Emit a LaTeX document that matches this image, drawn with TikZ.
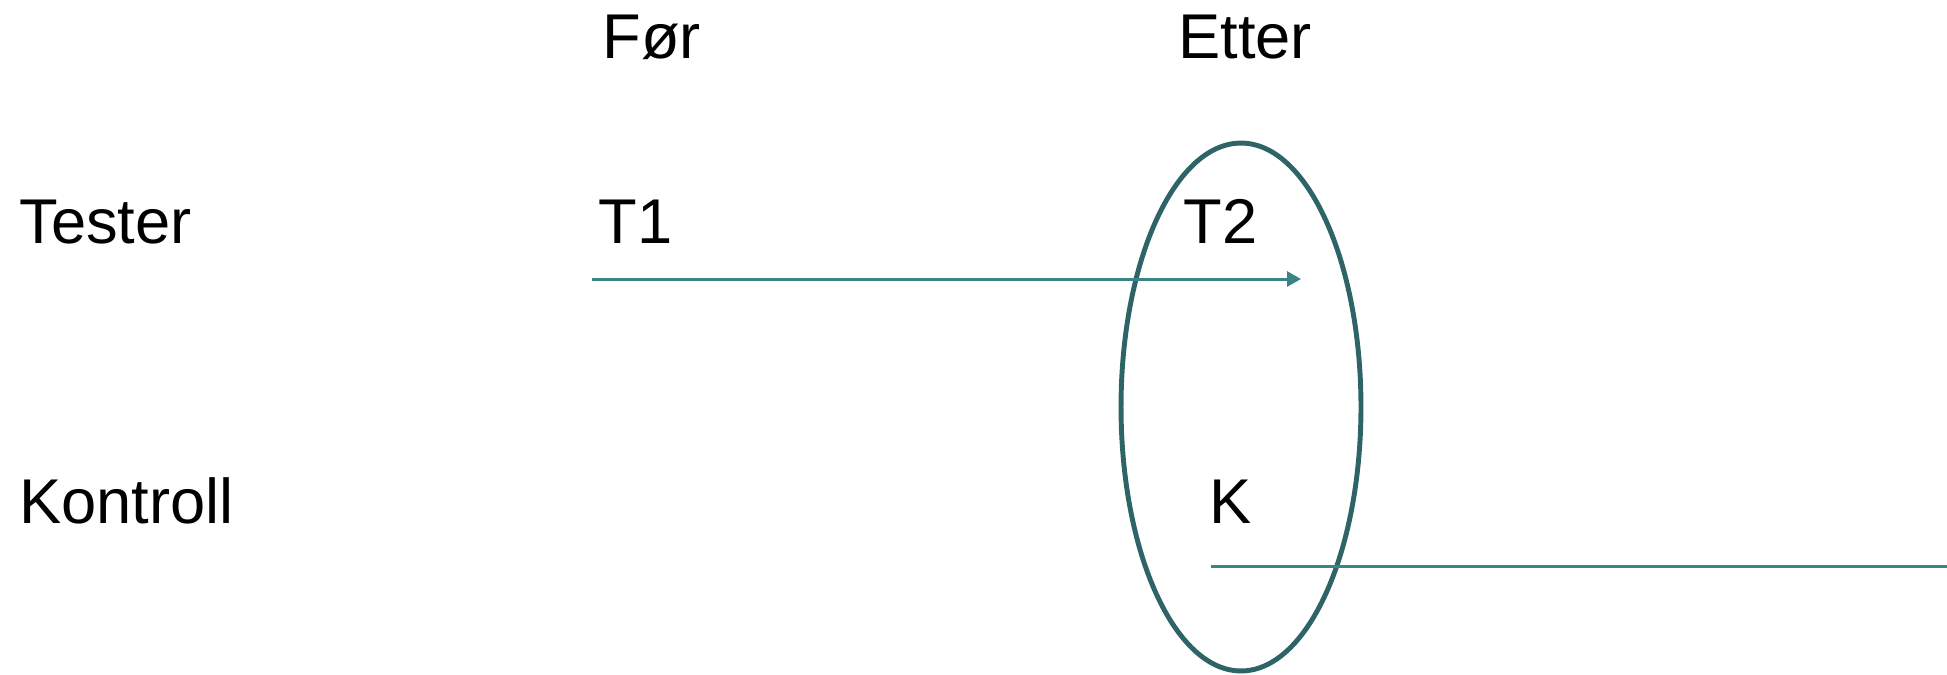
\documentclass[tikz,border=0pt]{standalone}
\usepackage{fontspec}
\setmainfont{Liberation Sans}
\usetikzlibrary{arrows.meta,shapes.geometric}
\definecolor{tealdark}{HTML}{2E6468}
\definecolor{teallight}{HTML}{3C8388}

\begin{document}
\begin{tikzpicture}[
  x=0.02cm, y=-0.02cm,
  lbl/.style={anchor=base west,inner sep=0pt,font=\fontsize{36}{43}\selectfont},
  ring/.style={ellipse,draw=tealdark,line width=2.8pt,inner sep=0pt,minimum width=4.8cm,minimum height=10.56cm},
  arrow/.style={-{Triangle[length=0.28cm,width=0.3cm]},line width=1.7pt,teallight},
  line/.style={line width=1.7pt,teallight},
]
\useasboundingbox (0,0) rectangle (1947,674);

% column headers
\node[lbl] (foer) at (602,58) {Før};
\node[lbl] (etter) at (1178,58) {Etter};

% row labels
\node[lbl] (tester) at (19,243) {Tester};
\node[lbl] (kontroll) at (19,523) {Kontroll};

% measurements
\node[lbl] (t1) at (598,243) {T1};
\node[lbl] (t2) at (1183,243) {T2};
\node[lbl] (k) at (1209,523) {K};

\node[ring] (samle) at (1241,407) {};

\coordinate (tstart) at (592,279);
\coordinate (tend) at (1301,279);
\coordinate (kstart) at (1211,566);
\coordinate (kend) at (1947,566);

\draw[arrow] (tstart) -- (tend);
\draw[line] (kstart) -- (kend);
\end{tikzpicture}
\end{document}
